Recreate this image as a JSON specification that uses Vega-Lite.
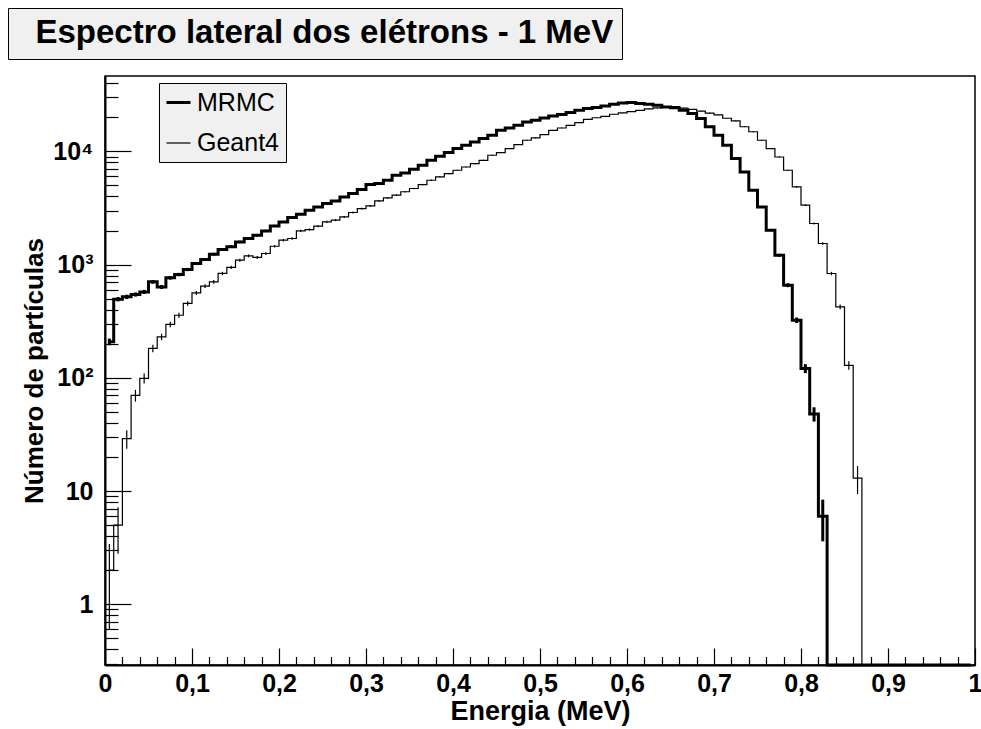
{
  "$schema": "https://vega.github.io/schema/vega-lite/v6.json",
  "autosize": "none",
  "padding": {"left": 105, "top": 76, "right": 6, "bottom": 64},
  "width": 870,
  "height": 589,
  "background": "white",
  "config": {
    "font": "Liberation Sans",
    "view": {"stroke": "black", "strokeWidth": 1.5},
    "axis": {"labelOverlap": false, "labelFlush": false, "labelBound": false, "grid": false}
  },
  "datasets": {
    "t": [{"title": "Espectro lateral dos elétrons - 1 MeV"}],
    "h": [
      {"s":"MRMC","E":0.005,"n":208,"err":14},{"s":"MRMC","E":0.015,"n":495,"err":22},{"s":"MRMC","E":0.025,"n":519,"err":23},{"s":"MRMC","E":0.035,"n":545,"err":23},{"s":"MRMC","E":0.045,"n":574,"err":24},
      {"s":"MRMC","E":0.055,"n":704,"err":27},{"s":"MRMC","E":0.065,"n":635,"err":25},{"s":"MRMC","E":0.075,"n":764,"err":28},{"s":"MRMC","E":0.085,"n":817,"err":29},{"s":"MRMC","E":0.095,"n":905,"err":30},
      {"s":"MRMC","E":0.105,"n":1023,"err":32},{"s":"MRMC","E":0.115,"n":1110,"err":33},{"s":"MRMC","E":0.125,"n":1236,"err":35},{"s":"MRMC","E":0.135,"n":1360,"err":37},{"s":"MRMC","E":0.145,"n":1440,"err":38},
      {"s":"MRMC","E":0.155,"n":1585,"err":40},{"s":"MRMC","E":0.165,"n":1700,"err":41},{"s":"MRMC","E":0.175,"n":1817,"err":43},{"s":"MRMC","E":0.185,"n":1983,"err":45},{"s":"MRMC","E":0.195,"n":2196,"err":47},
      {"s":"MRMC","E":0.205,"n":2384,"err":49},{"s":"MRMC","E":0.215,"n":2606,"err":51},{"s":"MRMC","E":0.225,"n":2786,"err":53},{"s":"MRMC","E":0.235,"n":3020,"err":55},{"s":"MRMC","E":0.245,"n":3229,"err":57},
      {"s":"MRMC","E":0.255,"n":3458,"err":59},{"s":"MRMC","E":0.265,"n":3648,"err":60},{"s":"MRMC","E":0.275,"n":3961,"err":63},{"s":"MRMC","E":0.285,"n":4240,"err":65},{"s":"MRMC","E":0.295,"n":4600,"err":68},
      {"s":"MRMC","E":0.305,"n":5093,"err":71},{"s":"MRMC","E":0.315,"n":5200,"err":72},{"s":"MRMC","E":0.325,"n":5560,"err":75},{"s":"MRMC","E":0.335,"n":6150,"err":78},{"s":"MRMC","E":0.345,"n":6450,"err":80},
      {"s":"MRMC","E":0.355,"n":6950,"err":83},{"s":"MRMC","E":0.365,"n":7540,"err":87},{"s":"MRMC","E":0.375,"n":8340,"err":91},{"s":"MRMC","E":0.385,"n":9050,"err":95},{"s":"MRMC","E":0.395,"n":9750,"err":99},
      {"s":"MRMC","E":0.405,"n":10590,"err":103},{"s":"MRMC","E":0.415,"n":11330,"err":106},{"s":"MRMC","E":0.425,"n":12110,"err":110},{"s":"MRMC","E":0.435,"n":12970,"err":114},{"s":"MRMC","E":0.445,"n":13870,"err":118},
      {"s":"MRMC","E":0.455,"n":15350,"err":124},{"s":"MRMC","E":0.465,"n":16090,"err":127},{"s":"MRMC","E":0.475,"n":16990,"err":130},{"s":"MRMC","E":0.485,"n":18170,"err":135},{"s":"MRMC","E":0.495,"n":18800,"err":137},
      {"s":"MRMC","E":0.505,"n":19710,"err":140},{"s":"MRMC","E":0.515,"n":20510,"err":143},{"s":"MRMC","E":0.525,"n":21110,"err":145},{"s":"MRMC","E":0.535,"n":21990,"err":148},{"s":"MRMC","E":0.545,"n":23050,"err":152},
      {"s":"MRMC","E":0.555,"n":23860,"err":154},{"s":"MRMC","E":0.565,"n":24450,"err":156},{"s":"MRMC","E":0.575,"n":25170,"err":159},{"s":"MRMC","E":0.585,"n":26050,"err":161},{"s":"MRMC","E":0.595,"n":26750,"err":164},
      {"s":"MRMC","E":0.605,"n":26980,"err":164},{"s":"MRMC","E":0.615,"n":26420,"err":163},{"s":"MRMC","E":0.625,"n":26050,"err":161},{"s":"MRMC","E":0.635,"n":25520,"err":160},{"s":"MRMC","E":0.645,"n":24650,"err":157},
      {"s":"MRMC","E":0.655,"n":24300,"err":156},{"s":"MRMC","E":0.665,"n":23050,"err":152},{"s":"MRMC","E":0.675,"n":21560,"err":147},{"s":"MRMC","E":0.685,"n":19500,"err":140},{"s":"MRMC","E":0.695,"n":16500,"err":128},
      {"s":"MRMC","E":0.705,"n":13870,"err":118},{"s":"MRMC","E":0.715,"n":11330,"err":106},{"s":"MRMC","E":0.725,"n":8650,"err":93},{"s":"MRMC","E":0.735,"n":6580,"err":81},{"s":"MRMC","E":0.745,"n":4540,"err":67},
      {"s":"MRMC","E":0.755,"n":3229,"err":57},{"s":"MRMC","E":0.765,"n":2013,"err":45},{"s":"MRMC","E":0.775,"n":1211,"err":35},{"s":"MRMC","E":0.785,"n":658,"err":26},{"s":"MRMC","E":0.795,"n":323,"err":18},
      {"s":"MRMC","E":0.805,"n":121,"err":11},{"s":"MRMC","E":0.815,"n":48,"err":6.9},{"s":"MRMC","E":0.825,"n":6,"err":2.4},{"s":"MRMC","E":0.835,"n":0,"err":0},{"s":"MRMC","E":0.845,"n":0,"err":0},
      {"s":"MRMC","E":0.855,"n":0,"err":0},{"s":"MRMC","E":0.865,"n":0,"err":0},{"s":"MRMC","E":0.875,"n":0,"err":0},{"s":"MRMC","E":0.885,"n":0,"err":0},{"s":"MRMC","E":0.895,"n":0,"err":0},
      {"s":"MRMC","E":0.905,"n":0,"err":0},{"s":"MRMC","E":0.915,"n":0,"err":0},{"s":"MRMC","E":0.925,"n":0,"err":0},{"s":"MRMC","E":0.935,"n":0,"err":0},{"s":"MRMC","E":0.945,"n":0,"err":0},
      {"s":"MRMC","E":0.955,"n":0,"err":0},{"s":"MRMC","E":0.965,"n":0,"err":0},{"s":"MRMC","E":0.975,"n":0,"err":0},{"s":"MRMC","E":0.985,"n":0,"err":0},{"s":"MRMC","E":0.995,"n":0,"err":0},
      {"s":"Geant4","E":0.005,"n":2,"err":1.4},{"s":"Geant4","E":0.015,"n":5,"err":2.2},{"s":"Geant4","E":0.025,"n":29,"err":5.4},{"s":"Geant4","E":0.035,"n":70,"err":8.4},{"s":"Geant4","E":0.045,"n":99,"err":10},
      {"s":"Geant4","E":0.055,"n":182,"err":13.5},{"s":"Geant4","E":0.065,"n":230,"err":15},{"s":"Geant4","E":0.075,"n":296,"err":17},{"s":"Geant4","E":0.085,"n":357,"err":19},{"s":"Geant4","E":0.095,"n":454,"err":21},
      {"s":"Geant4","E":0.105,"n":562,"err":24},{"s":"Geant4","E":0.115,"n":646,"err":25},{"s":"Geant4","E":0.125,"n":704,"err":27},{"s":"Geant4","E":0.135,"n":835,"err":29},{"s":"Geant4","E":0.145,"n":944,"err":31},
      {"s":"Geant4","E":0.155,"n":1094,"err":33},{"s":"Geant4","E":0.165,"n":1194,"err":35},{"s":"Geant4","E":0.175,"n":1156,"err":34},{"s":"Geant4","E":0.185,"n":1253,"err":35},{"s":"Geant4","E":0.195,"n":1452,"err":38},
      {"s":"Geant4","E":0.205,"n":1642,"err":41},{"s":"Geant4","E":0.215,"n":1700,"err":41},{"s":"Geant4","E":0.225,"n":1983,"err":45},{"s":"Geant4","E":0.235,"n":2040,"err":45},{"s":"Geant4","E":0.245,"n":2183,"err":47},
      {"s":"Geant4","E":0.255,"n":2384,"err":49},{"s":"Geant4","E":0.265,"n":2466,"err":50},{"s":"Geant4","E":0.275,"n":2636,"err":51},{"s":"Geant4","E":0.285,"n":2884,"err":54},{"s":"Geant4","E":0.295,"n":3126,"err":56},
      {"s":"Geant4","E":0.305,"n":3296,"err":57},{"s":"Geant4","E":0.315,"n":3648,"err":60},{"s":"Geant4","E":0.325,"n":3880,"err":62},{"s":"Geant4","E":0.335,"n":4100,"err":64},{"s":"Geant4","E":0.345,"n":4400,"err":66},
      {"s":"Geant4","E":0.355,"n":4700,"err":69},{"s":"Geant4","E":0.365,"n":5093,"err":71},{"s":"Geant4","E":0.375,"n":5560,"err":75},{"s":"Geant4","E":0.385,"n":5950,"err":77},{"s":"Geant4","E":0.395,"n":6370,"err":80},
      {"s":"Geant4","E":0.405,"n":6810,"err":83},{"s":"Geant4","E":0.415,"n":7280,"err":85},{"s":"Geant4","E":0.425,"n":7800,"err":88},{"s":"Geant4","E":0.435,"n":8340,"err":91},{"s":"Geant4","E":0.445,"n":9240,"err":96},
      {"s":"Geant4","E":0.455,"n":9750,"err":99},{"s":"Geant4","E":0.465,"n":10590,"err":103},{"s":"Geant4","E":0.475,"n":11480,"err":107},{"s":"Geant4","E":0.485,"n":12530,"err":112},{"s":"Geant4","E":0.495,"n":13130,"err":115},
      {"s":"Geant4","E":0.505,"n":14060,"err":119},{"s":"Geant4","E":0.515,"n":15350,"err":124},{"s":"Geant4","E":0.525,"n":16090,"err":127},{"s":"Geant4","E":0.535,"n":16990,"err":130},{"s":"Geant4","E":0.545,"n":17940,"err":134},
      {"s":"Geant4","E":0.555,"n":19190,"err":139},{"s":"Geant4","E":0.565,"n":19800,"err":141},{"s":"Geant4","E":0.575,"n":20400,"err":143},{"s":"Geant4","E":0.585,"n":21270,"err":146},{"s":"Geant4","E":0.595,"n":21830,"err":148},
      {"s":"Geant4","E":0.605,"n":22440,"err":150},{"s":"Geant4","E":0.615,"n":23050,"err":152},{"s":"Geant4","E":0.625,"n":23680,"err":154},{"s":"Geant4","E":0.635,"n":24170,"err":155},{"s":"Geant4","E":0.645,"n":24650,"err":157},
      {"s":"Geant4","E":0.655,"n":24800,"err":157},{"s":"Geant4","E":0.665,"n":24100,"err":155},{"s":"Geant4","E":0.675,"n":23450,"err":153},{"s":"Geant4","E":0.685,"n":22700,"err":151},{"s":"Geant4","E":0.695,"n":21800,"err":148},
      {"s":"Geant4","E":0.705,"n":21000,"err":145},{"s":"Geant4","E":0.715,"n":19600,"err":140},{"s":"Geant4","E":0.725,"n":18600,"err":136},{"s":"Geant4","E":0.735,"n":16500,"err":128},{"s":"Geant4","E":0.745,"n":14900,"err":122},
      {"s":"Geant4","E":0.755,"n":12530,"err":112},{"s":"Geant4","E":0.765,"n":10590,"err":103},{"s":"Geant4","E":0.775,"n":8920,"err":94},{"s":"Geant4","E":0.785,"n":6810,"err":83},{"s":"Geant4","E":0.795,"n":4850,"err":70},
      {"s":"Geant4","E":0.805,"n":3345,"err":58},{"s":"Geant4","E":0.815,"n":2306,"err":48},{"s":"Geant4","E":0.825,"n":1535,"err":39},{"s":"Geant4","E":0.835,"n":834,"err":29},{"s":"Geant4","E":0.845,"n":424,"err":21},
      {"s":"Geant4","E":0.855,"n":129,"err":11},{"s":"Geant4","E":0.865,"n":13,"err":3.6},{"s":"Geant4","E":0.875,"n":0,"err":0},{"s":"Geant4","E":0.885,"n":0,"err":0},{"s":"Geant4","E":0.895,"n":0,"err":0},
      {"s":"Geant4","E":0.905,"n":0,"err":0},{"s":"Geant4","E":0.915,"n":0,"err":0},{"s":"Geant4","E":0.925,"n":0,"err":0},{"s":"Geant4","E":0.935,"n":0,"err":0},{"s":"Geant4","E":0.945,"n":0,"err":0},
      {"s":"Geant4","E":0.955,"n":0,"err":0},{"s":"Geant4","E":0.965,"n":0,"err":0},{"s":"Geant4","E":0.975,"n":0,"err":0},{"s":"Geant4","E":0.985,"n":0,"err":0},{"s":"Geant4","E":0.995,"n":0,"err":0}
    ]
  },
  "data": {"name": "h"},
  "layer": [
    {
      "mark": {"type": "line", "interpolate": "step", "invalid": "show", "color": "black"},
      "encoding": {
        "x": {
          "field": "E", "type": "quantitative", "title": "Energia (MeV)",
          "scale": {"domain": [0, 1], "nice": false, "zero": false},
          "axis": {
            "title": "Energia (MeV)",
            "tickCount": 100,
            "values": [0,0.02,0.04,0.06,0.08,0.1,0.12,0.14,0.16,0.18,0.2,0.22,0.24,0.26,0.28,0.3,0.32,0.34,0.36,0.38,0.4,0.42,0.44,0.46,0.48,0.5,0.52,0.54,0.56,0.58,0.6,0.62,0.64,0.66,0.68,0.7,0.72,0.74,0.76,0.78,0.8,0.82,0.84,0.86,0.88,0.9,0.92,0.94,0.96,0.98,1],
            "labelExpr": "abs(datum.value*10 - round(datum.value*10)) < 1e-6 ? (datum.value == 0 ? '0' : datum.value == 1 ? '1' : replace(format(datum.value, '.1f'), '.', ',')) : ''",
            "tickSize": {"condition": {"test": "abs(datum.value*10 - round(datum.value*10)) < 1e-6", "value": -17}, "value": -8.5},
            "tickColor": "black", "tickWidth": 1.2,
            "domainColor": "black", "domainWidth": 2,
            "labelFont": "Liberation Sans", "labelFontSize": 25, "labelFontWeight": "bold", "labelColor": "black",
            "labelPadding": 23, "labelOverlap": false, "labelFlush": false, "labelBound": false,
            "titleFont": "Liberation Sans", "titleFontSize": 27, "titleFontWeight": "bold", "titleColor": "black",
            "titleBaseline": "alphabetic", "titleY": 54
          }
        },
        "y": {
          "field": "n", "type": "quantitative", "title": "Número de partículas",
          "scale": {"type": "log", "domain": [0.291, 46300], "nice": false, "clamp": true},
          "axis": {
            "title": "Número de partículas",
            "tickCount": 100,
            "values": [0.3,0.4,0.5,0.6,0.7,0.8,0.9,1,2,3,4,5,6,7,8,9,10,20,30,40,50,60,70,80,90,100,200,300,400,500,600,700,800,900,1000,2000,3000,4000,5000,6000,7000,8000,9000,10000,20000,30000,40000],
            "labelExpr": "datum.value == 1 ? '1' : datum.value == 10 ? '10' : datum.value == 100 ? '10²' : datum.value == 1000 ? '10³' : datum.value == 10000 ? '10⁴' : ''",
            "tickSize": {"condition": {"test": "datum.value == 1 || datum.value == 10 || datum.value == 100 || datum.value == 1000 || datum.value == 10000", "value": -26}, "value": -13},
            "tickColor": "black", "tickWidth": 1.2,
            "domainColor": "black", "domainWidth": 2,
            "labelFont": "Liberation Sans", "labelFontSize": 25, "labelFontWeight": "bold", "labelColor": "black",
            "labelPadding": 38, "labelOverlap": false, "labelFlush": false, "labelBound": false,
            "titleFont": "Liberation Sans", "titleFontSize": 26, "titleFontWeight": "bold", "titleColor": "black",
            "titleBaseline": "alphabetic", "titleX": -63
          }
        },
        "strokeWidth": {
          "field": "s", "type": "nominal",
          "scale": {"domain": ["MRMC", "Geant4"], "range": [3, 1.2]},
          "legend": {
            "orient": "none", "legendX": 54, "legendY": 7, "title": null,
            "fillColor": "#f0f0f0", "strokeColor": "black", "padding": 6,
            "symbolType": "stroke", "symbolSize": 576, "symbolStrokeColor": "black",
            "labelFont": "Liberation Sans", "labelFontSize": 25, "labelColor": "black",
            "labelOffset": 5, "rowPadding": 14, "labelLimit": 0
          }
        }
      }
    },
    {
      "transform": [{"filter": "datum.n > 0 && datum.s == 'MRMC'"}],
      "mark": {"type": "errorbar", "thickness": 3, "color": "black"},
      "encoding": {
        "x": {"field": "E", "type": "quantitative", "title": "Energia (MeV)"},
        "y": {"field": "n", "type": "quantitative", "title": "Número de partículas"},
        "yError": {"field": "err"}
      }
    },
    {
      "transform": [{"filter": "datum.n > 0 && datum.s == 'Geant4'"}],
      "mark": {"type": "errorbar", "thickness": 1.2, "color": "black"},
      "encoding": {
        "x": {"field": "E", "type": "quantitative", "title": "Energia (MeV)"},
        "y": {"field": "n", "type": "quantitative", "title": "Número de partículas"},
        "yError": {"field": "err"}
      }
    },
    {
      "data": {"name": "t"},
      "mark": {"type": "text"},
      "encoding": {
        "text": {"value": ""},
        "color": {
          "field": "title", "type": "nominal",
          "scale": {"range": ["black"]},
          "legend": {
            "orient": "none", "legendX": -97, "legendY": -68, "title": null,
            "fillColor": "#f0f0f0", "strokeColor": "black", "padding": 8.5,
            "symbolOpacity": 0, "symbolSize": 0, "labelOffset": -14,
            "labelFont": "Liberation Sans", "labelFontSize": 33, "labelFontWeight": "bold", "labelColor": "black",
            "labelLimit": 0, "labelExpr": "datum.label + '\u00a0\u00a0'"
          }
        }
      }
    }
  ]
}
